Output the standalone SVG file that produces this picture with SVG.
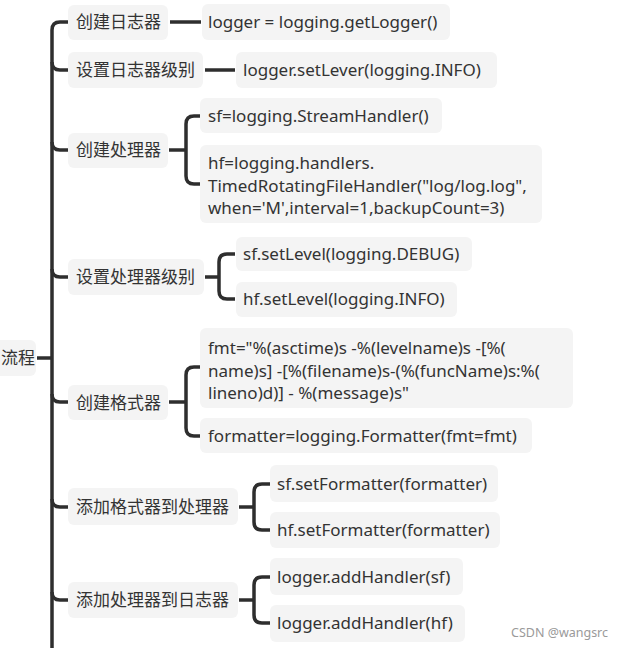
<svg xmlns="http://www.w3.org/2000/svg" width="621" height="648" viewBox="0 0 621 648">
<style>
.bg{fill:#ffffff}
.box{fill:#f4f4f4}
.t{font-family:"Noto Sans","Noto Sans CJK SC",sans-serif;font-size:17px;fill:#333333}
.c{fill:none;stroke:#2e2e2e;stroke-width:3.5;stroke-linecap:butt;stroke-linejoin:round}
.wm{font-family:"Noto Sans","Liberation Sans",sans-serif;font-size:12.5px;fill:#9a9a9a}
</style>
<rect class="bg" x="0" y="0" width="621" height="648"/>
<g id="connectors">
<path class="c" d="M52 648 L52 30 Q52 22 60 22 L68 22"/>
<path class="c" d="M52 62 Q52 70 60 70 L68 70"/>
<path class="c" d="M52 142 Q52 150 60 150 L68 150"/>
<path class="c" d="M52 269 Q52 277 60 277 L68 277"/>
<path class="c" d="M52 394 Q52 402 60 402 L68 402"/>
<path class="c" d="M52 499 Q52 507 60 507 L68 507"/>
<path class="c" d="M52 592 Q52 600 60 600 L68 600"/>
<path class="c" d="M37 358 L52 358"/>
<path class="c" d="M170 22 L201 22"/>
<path class="c" d="M205 70 L235 70"/>
<path class="c" d="M169 150 L186 150"/>
<path class="c" d="M200 116 L194 116 Q186 116 186 124 L186 176 Q186 184 194 184 L200 184"/>
<path class="c" d="M205 277 L219 277"/>
<path class="c" d="M235 254 L227 254 Q219 254 219 262 L219 291 Q219 299 227 299 L235 299"/>
<path class="c" d="M169 402 L186 402"/>
<path class="c" d="M200 367 L194 367 Q186 367 186 375 L186 428 Q186 436 194 436 L200 436"/>
<path class="c" d="M239 507 L254 507"/>
<path class="c" d="M270 484 L262 484 Q254 484 254 492 L254 522 Q254 530 262 530 L270 530"/>
<path class="c" d="M239 600 L254 600"/>
<path class="c" d="M270 577 L262 577 Q254 577 254 585 L254 615 Q254 623 262 623 L270 623"/>
</g>
<g id="root">
<rect class="box" x="-6" y="340" width="42" height="36" rx="6"/>
<text class="t" x="1" y="364">流程</text>
</g>
<g id="n1">
<rect class="box" x="68" y="5" width="100" height="35" rx="6"/>
<text class="t" x="76" y="28">创建日志器</text>
</g>
<g id="n1a">
<rect class="box" x="202" y="4" width="248" height="36" rx="6"/>
<text class="t" x="208" y="28">logger = logging.getLogger()</text>
</g>
<g id="n2">
<rect class="box" x="68" y="52" width="135" height="36" rx="6"/>
<text class="t" x="76" y="76">设置日志器级别</text>
</g>
<g id="n2a">
<rect class="box" x="236" y="52" width="261" height="36" rx="6"/>
<text class="t" x="243" y="76">logger.setLever(logging.INFO)</text>
</g>
<g id="n3">
<rect class="box" x="68" y="133" width="100" height="35" rx="6"/>
<text class="t" x="76" y="156">创建处理器</text>
</g>
<g id="n3a">
<rect class="box" x="200" y="98" width="242" height="35" rx="6"/>
<text class="t" x="208" y="122">sf=logging.StreamHandler()</text>
</g>
<g id="n3b">
<rect class="box" x="200" y="145" width="342" height="78" rx="6"/>
<text class="t" x="208" y="169">hf=logging.handlers.</text>
<text class="t" x="208" y="192">TimedRotatingFileHandler("log/log.log",</text>
<text class="t" x="208" y="214">when='M',interval=1,backupCount=3)</text>
</g>
<g id="n4">
<rect class="box" x="68" y="259" width="136" height="36" rx="6"/>
<text class="t" x="76" y="283">设置处理器级别</text>
</g>
<g id="n4a">
<rect class="box" x="236" y="237" width="236" height="34" rx="6"/>
<text class="t" x="243" y="260">sf.setLevel(logging.DEBUG)</text>
</g>
<g id="n4b">
<rect class="box" x="236" y="282" width="221" height="35" rx="6"/>
<text class="t" x="243" y="305">hf.setLevel(logging.INFO)</text>
</g>
<g id="n5">
<rect class="box" x="68" y="385" width="100" height="35" rx="6"/>
<text class="t" x="76" y="409">创建格式器</text>
</g>
<g id="n5a">
<rect class="box" x="200" y="328" width="373" height="80" rx="6"/>
<text class="t" x="208" y="354">fmt="%(asctime)s -%(levelname)s -[%(</text>
<text class="t" x="208" y="377">name)s] -[%(filename)s-(%(funcName)s:%(</text>
<text class="t" x="208" y="399">lineno)d)] - %(message)s"</text>
</g>
<g id="n5b">
<rect class="box" x="200" y="418" width="332" height="35" rx="6"/>
<text class="t" x="208" y="442">formatter=logging.Formatter(fmt=fmt)</text>
</g>
<g id="n6">
<rect class="box" x="68" y="488" width="170" height="37" rx="6"/>
<text class="t" x="76" y="513">添加格式器到处理器</text>
</g>
<g id="n6a">
<rect class="box" x="270" y="465" width="228" height="37" rx="6"/>
<text class="t" x="277" y="490">sf.setFormatter(formatter)</text>
</g>
<g id="n6b">
<rect class="box" x="270" y="512" width="230" height="36" rx="6"/>
<text class="t" x="277" y="536">hf.setFormatter(formatter)</text>
</g>
<g id="n7">
<rect class="box" x="68" y="582" width="170" height="36" rx="6"/>
<text class="t" x="76" y="606">添加处理器到日志器</text>
</g>
<g id="n7a">
<rect class="box" x="270" y="558" width="193" height="37" rx="6"/>
<text class="t" x="277" y="583">logger.addHandler(sf)</text>
</g>
<g id="n7b">
<rect class="box" x="270" y="605" width="195" height="37" rx="6"/>
<text class="t" x="277" y="629">logger.addHandler(hf)</text>
</g>
<text class="wm" x="511" y="637">CSDN @wangsrc</text>
</svg>
